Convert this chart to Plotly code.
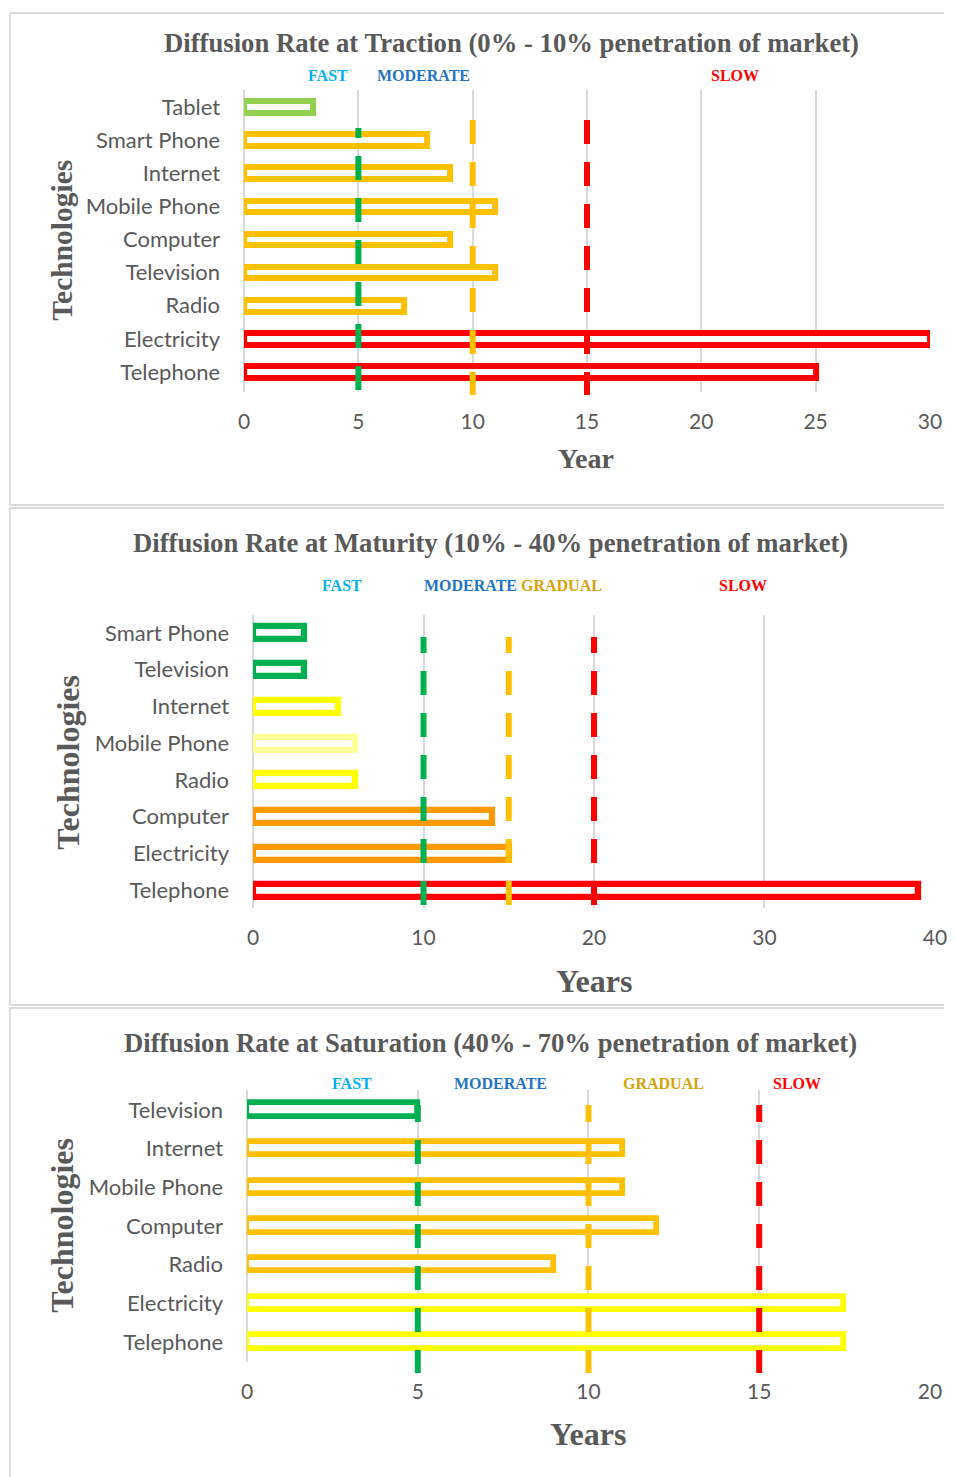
import plotly.graph_objects as go

W, H = 956, 1477

# ---------------- data ----------------
traction_tech = ["Telephone", "Electricity", "Radio", "Television", "Computer",
                 "Mobile Phone", "Internet", "Smart Phone", "Tablet"]
traction_years = [25, 30, 7, 11, 9, 11, 9, 8, 3]
traction_thresholds = [5, 10, 15]
traction_ticks = [0, 5, 10, 15, 20, 25, 30]
traction_speeds = ["FAST", "MODERATE", "SLOW"]

maturity_tech = ["Telephone", "Electricity", "Computer", "Radio", "Mobile Phone",
                 "Internet", "Television", "Smart Phone"]
maturity_years = [39, 15, 14, 6, 6, 5, 3, 3]
maturity_thresholds = [10, 15, 20]
maturity_ticks = [0, 10, 20, 30, 40]
maturity_speeds = ["FAST", "MODERATE", "GRADUAL", "SLOW"]

saturation_tech = ["Telephone", "Electricity", "Radio", "Computer", "Mobile Phone",
                   "Internet", "Television"]
saturation_years = [17.5, 17.5, 9, 12, 11, 11, 5]
saturation_thresholds = [5, 10, 15]
saturation_ticks = [0, 5, 10, 15, 20]
saturation_speeds = ["FAST", "MODERATE", "GRADUAL", "SLOW"]

# ---------------- styles ----------------
GREEN, LGREEN, GOLD, RED = "#00B050", "#92D050", "#FFC000", "#FF0000"
YEL, LYEL, ORG = "#FFFF00", "#FFFF99", "#FF9900"
GRID = "#D9D9D9"
TXT = "#595959"
SERIF = "Liberation Serif"
SANS = "Lato"
SPEED_COL = {"FAST": "#00B0F0", "MODERATE": "#1F74C4", "GRADUAL": "#D4A20A", "SLOW": "#FF0000"}

traction_colors = [RED, RED, GOLD, GOLD, GOLD, GOLD, GOLD, GOLD, LGREEN]
maturity_colors = [RED, ORG, ORG, YEL, LYEL, YEL, GREEN, GREEN]
saturation_colors = [YEL, YEL, GOLD, GOLD, GOLD, GOLD, GREEN]
line_colors = [GREEN, GOLD, RED]

# horizontal calibration of the rendered page (observed in the screenshots)
SX, OX = 0.98, 6.2


def px(x):
    return ((x - OX) / SX) / W


def py(y):
    return 1 - y / H


def dash(first):
    return f"{first}px,18px," + ",".join(["24px,18px"] * 9)


panels = [
    dict(tech=traction_tech, years=traction_years, thr=traction_thresholds,
         ticks=traction_ticks, speeds=traction_speeds, colors=traction_colors,
         title="Diffusion Rate at Traction (0% - 10% penetration of market)",
         xtitle="Year", xdom=(244, 929), ydom=(90, 392), yr=(-0.604, 8.513),
         bw=0.35, lw=6, title_xy=(511, 43), xt_xy=(586, 458, 28),
         yt_xy=(62, 240, 29.5), speed_x=[328, 423, 734], speed_y=76,
         lines=[(128, 395, 10), (120, 395, 24), (120, 395, 24)],
         box=(13, 505, True)),
    dict(tech=maturity_tech, years=maturity_years, thr=maturity_thresholds,
         ticks=maturity_ticks, speeds=maturity_speeds, colors=maturity_colors,
         title="Diffusion Rate at Maturity (10% - 40% penetration of market)",
         xtitle="Years", xdom=(253, 934), ydom=(615, 908), yr=(-0.49, 7.49),
         bw=0.354, lw=6.3, title_xy=(490, 543), xt_xy=(593, 981, 32),
         yt_xy=(68, 762, 32), speed_x=[342, 470, 561, 742], speed_y=585,
         lines=[(637, 905, 16), (637, 905, 16), (637, 905, 16)],
         box=(508, 1005, True)),
    dict(tech=saturation_tech, years=saturation_years, thr=saturation_thresholds,
         ticks=saturation_ticks, speeds=saturation_speeds, colors=saturation_colors,
         title="Diffusion Rate at Saturation (40% - 70% penetration of market)",
         xtitle="Years", xdom=(247, 929), ydom=(1090, 1362), yr=(-0.517, 6.517),
         bw=0.344, lw=5.8, title_xy=(490, 1043), xt_xy=(588, 1434, 32),
         yt_xy=(62, 1225, 32), speed_x=[352, 500, 663, 796], speed_y=1083,
         lines=[(1105, 1373, 17), (1105, 1373, 17), (1105, 1373, 17)],
         box=(1008, 1477, False)),
]

fig = go.Figure()
annotations = []
shapes = []
layout_axes = {}

for i, p in enumerate(panels, start=1):
    xa = "x" if i == 1 else f"x{i}"
    ya = "y" if i == 1 else f"y{i}"
    fig.add_trace(go.Bar(
        x=p["years"], y=p["tech"], orientation="h", xaxis=xa, yaxis=ya,
        width=p["bw"], marker=dict(color="white",
                                   line=dict(color=p["colors"], width=p["lw"])),
        showlegend=False, hoverinfo="x+y"))
    xk = "xaxis" if i == 1 else f"xaxis{i}"
    yk = "yaxis" if i == 1 else f"yaxis{i}"
    layout_axes[xk] = dict(
        domain=[px(p["xdom"][0]), px(p["xdom"][1])], anchor=ya,
        range=[0, p["ticks"][-1]], tickvals=p["ticks"], ticktext=[str(t) for t in p["ticks"]],
        showgrid=True, gridcolor=GRID, gridwidth=1.6, zeroline=True,
        zerolinecolor=GRID, zerolinewidth=1.6, showline=False, ticks="",
        tickfont=dict(family=SANS, size=21, color=TXT), ticklabelstandoff=15)
    layout_axes[yk] = dict(
        domain=[py(p["ydom"][1]), py(p["ydom"][0])], anchor=xa,
        type="category", categoryorder="array", categoryarray=p["tech"],
        range=list(p["yr"]), showgrid=False, zeroline=False, showline=False,
        ticks="", tickfont=dict(family=SANS, size=22, color=TXT),
        ticklabelstandoff=23)

    # threshold dashed lines
    for (y0, y1, first), t, c in zip(p["lines"], p["thr"], line_colors):
        shapes.append(dict(type="line", xref=xa, yref="paper", x0=t, x1=t,
                           y0=py(y0), y1=py(y1), layer="above",
                           line=dict(color=c, width=6, dash=dash(first))))

    # panel border: top, left and (optionally) bottom edges
    top, bottom, has_bottom = p["box"]
    border = dict(color=GRID, width=1.8)
    shapes.append(dict(type="line", xref="paper", yref="paper", x0=px(10), x1=1,
                       y0=py(top), y1=py(top), line=border, layer="below"))
    shapes.append(dict(type="line", xref="paper", yref="paper", x0=px(10), x1=px(10),
                       y0=py(top), y1=py(bottom), line=border, layer="below"))
    if has_bottom:
        shapes.append(dict(type="line", xref="paper", yref="paper", x0=px(10), x1=1,
                           y0=py(bottom), y1=py(bottom), line=border, layer="below"))

    # titles
    annotations.append(dict(text=f"<b>{p['title']}</b>", xref="paper", yref="paper",
                            x=px(p["title_xy"][0]), y=py(p["title_xy"][1]),
                            xanchor="center", yanchor="middle", showarrow=False,
                            font=dict(family=SERIF, size=26.7, color=TXT)))
    annotations.append(dict(text=f"<b>{p['xtitle']}</b>", xref="paper", yref="paper",
                            x=px(p["xt_xy"][0]), y=py(p["xt_xy"][1]),
                            xanchor="center", yanchor="middle", showarrow=False,
                            font=dict(family=SERIF, size=p["xt_xy"][2], color=TXT)))
    annotations.append(dict(text="<b>Technologies</b>", xref="paper", yref="paper",
                            x=px(p["yt_xy"][0]), y=py(p["yt_xy"][1]), textangle=-90,
                            xanchor="center", yanchor="middle", showarrow=False,
                            font=dict(family=SERIF, size=p["yt_xy"][2], color=TXT)))
    for s, sx in zip(p["speeds"], p["speed_x"]):
        annotations.append(dict(text=f"<b>{s}</b>", xref="paper", yref="paper",
                                x=px(sx), y=py(p["speed_y"]), xanchor="center",
                                yanchor="middle", showarrow=False,
                                font=dict(family=SERIF, size=16, color=SPEED_COL[s])))

fig.update_layout(width=W, height=H, autosize=False,
                  margin=dict(l=0, r=0, t=0, b=0),
                  paper_bgcolor="white", plot_bgcolor="white",
                  annotations=annotations, shapes=shapes, bargap=0, **layout_axes)

fig.write_html("out.html",
               config={"responsive": False, "displayModeBar": False},
               post_script="document.body.style.margin='0';"
                           "document.body.style.overflow='hidden';")
